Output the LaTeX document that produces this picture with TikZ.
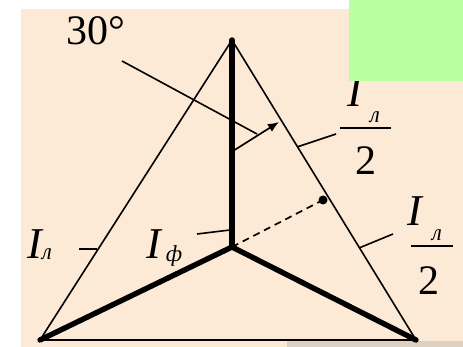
\documentclass[tikz,border=0pt]{standalone}
\usepackage{fontspec}
\setmainfont{Liberation Serif}
\usetikzlibrary{arrows.meta}
\definecolor{beige}{RGB}{252,234,214}
\definecolor{lgreen}{RGB}{186,255,160}
\definecolor{lgrey}{RGB}{222,208,192}
\tikzset{
  thinline/.style={line width=1.6pt, black},
  thickline/.style={line width=5.4pt, black, line cap=round, line join=round},
  big/.style={inner sep=0pt, font=\fontsize{44}{50}\selectfont\itshape},
  bigup/.style={inner sep=0pt, font=\fontsize{42}{48}\selectfont},
  sub/.style={inner sep=0pt, font=\fontsize{23}{26}\selectfont\itshape},
}
\begin{document}
\begin{tikzpicture}[x=1pt,y=-1pt]
\useasboundingbox (0,0) rectangle (463,347);
\fill[white] (0,0) rectangle (463,347);
\fill[beige] (21,9) rectangle (463,347);
\fill[lgrey] (287,341) rectangle (463,347);
% vertices
\coordinate (T) at (232,40);
\coordinate (BL) at (40,340);
\coordinate (BR) at (416,340);
\coordinate (O) at (232,247);
\coordinate (A1) at (233,151);
\coordinate (A2) at (279,122);
\coordinate (D) at (323,200);
% triangle
\draw[thinline] (BL) -- (T) -- (BR) -- (BL);
% star
\draw[thickline] (T) -- (O);
\draw[thickline] (BL) -- (O) -- (BR);
% arrow and dashed
\draw[line width=1.7pt, -{Latex[length=11pt,width=9pt]}] (A1) -- (A2);
\draw[line width=1.7pt, dash pattern=on 7pt off 5pt] (O) -- (D);
\fill (D) circle (4.5pt);
% labels
\node[bigup] (ang) at (96,31) {30°};
\coordinate (angA) at (122,61);
\coordinate (angB) at (257,134);
\draw[thinline] (angA) -- (angB);

\node[big] (il) at (35,244) {I};
\node[sub] (ill) at (47,254) {л};
\coordinate (e1) at (97,249);
\coordinate (e1b) at (79,249);
\draw[thinline] (e1b) -- (e1);

\node[big] (ifi) at (154,244) {I};
\node[sub] (iff) at (174,256) {ф};
\coordinate (e2) at (230,230);
\coordinate (e2b) at (197,234);
\draw[thinline] (e2b) -- (e2);

% fraction 1
\node[big] (f1i) at (355,92) {I};
\node[sub] (f1l) at (375,117) {л};
\coordinate (f1a) at (340,128);
\coordinate (f1b) at (391,128);
\draw[thinline] (f1a) -- (f1b);
\node[bigup] (f1d) at (366,161) {2};
\coordinate (e3) at (297,147);
\coordinate (e3b) at (336,134);
\draw[thinline] (e3) -- (e3b);

% fraction 2
\node[big] (f2i) at (415,211) {I};
\node[sub] (f2l) at (437,235) {л};
\coordinate (f2a) at (411,246);
\coordinate (f2b) at (453,246);
\draw[thinline] (f2a) -- (f2b);
\node[bigup] (f2d) at (429,281) {2};
\coordinate (e4) at (359,248);
\coordinate (e4b) at (393,234);
\draw[thinline] (e4) -- (e4b);

\fill[lgreen] (349,0) rectangle (463,81);
\end{tikzpicture}
\end{document}
